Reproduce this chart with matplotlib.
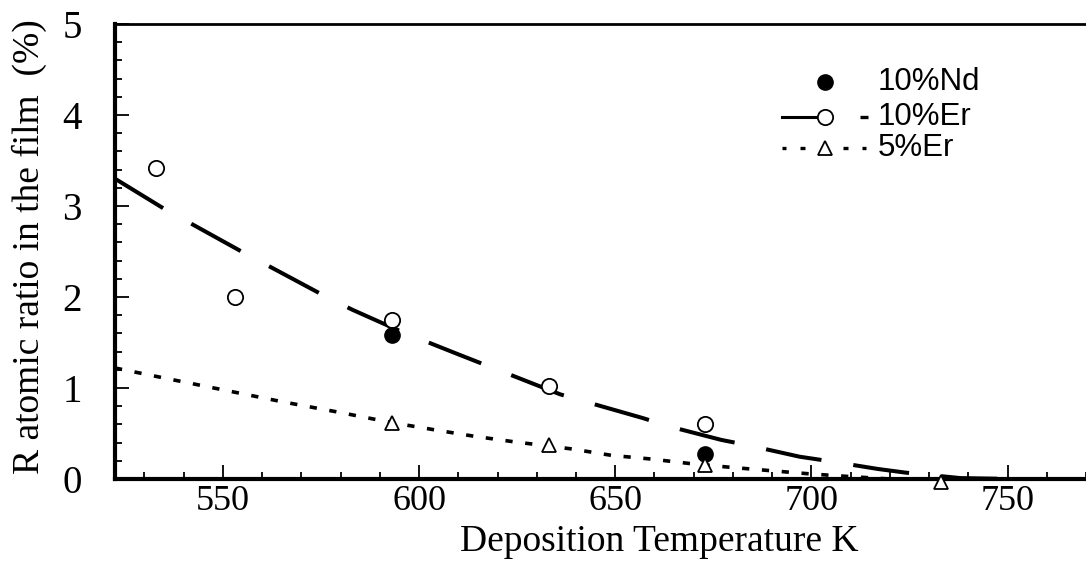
import matplotlib.pyplot as plt
from matplotlib.ticker import MultipleLocator

# measured points
er10_t = [533, 553, 593, 633, 673]
er10_r = [3.42, 2.00, 1.75, 1.02, 0.60]
nd10_t = [593, 673]
nd10_r = [1.58, 0.28]
er5_t = [593, 633, 673, 733]
er5_r = [0.61, 0.37, 0.15, -0.03]

# fitted curves
fit10_t = [522.5, 535, 543, 556, 563, 576, 583, 596, 610, 623, 636, 644, 657,
           664, 677, 684, 697, 704, 717, 724, 738, 752]
fit10_r = [3.30, 2.97, 2.78, 2.47, 2.31, 2.01, 1.86, 1.61, 1.37, 1.15, 0.93, 0.83,
           0.67, 0.575, 0.43, 0.37, 0.245, 0.20, 0.11, 0.07, 0.01, 0.0]
fit5_t = [522.5, 535, 550, 565, 580, 593, 604, 614, 624, 639, 649, 659, 669,
          679, 690, 700, 710, 720, 745]
fit5_r = [1.22, 1.11, 0.98, 0.85, 0.73, 0.62, 0.54, 0.47, 0.41, 0.33, 0.26, 0.22,
          0.17, 0.13, 0.09, 0.055, 0.026, 0.0, 0.0]

serif = "Liberation Serif"
sans = "Liberation Sans"

fig = plt.figure(figsize=(10.86, 5.66), dpi=100)
ax = fig.add_axes([115 / 1086, 87 / 566, 971 / 1086, 455 / 566])

ax.plot(fit10_t, fit10_r, color="k", lw=2.9, dashes=(14, 8), solid_capstyle="butt",
        dash_capstyle="butt")
ax.plot(fit5_t, fit5_r, color="k", lw=2.6, dashes=(2.0, 3.5), dash_capstyle="butt")

ax.plot(er10_t, er10_r, "o", ms=11, mfc="white", mec="k", mew=1.3, clip_on=False, zorder=5)
ax.plot(nd10_t, nd10_r, "o", ms=11, mfc="k", mec="k", clip_on=False, zorder=6)
ax.plot(er5_t, er5_r, "^", ms=10, mfc="white", mec="k", mew=1.3, clip_on=False, zorder=6)

ax.set_xlim(522.5, 770)
ax.set_ylim(0, 5)
ax.xaxis.set_major_locator(MultipleLocator(50))
ax.xaxis.set_minor_locator(MultipleLocator(10))
ax.yaxis.set_major_locator(MultipleLocator(1))
ax.yaxis.set_minor_locator(MultipleLocator(0.2))

ax.spines["right"].set_visible(False)
ax.spines["left"].set_linewidth(3)
ax.spines["bottom"].set_linewidth(3)
ax.spines["top"].set_linewidth(2)

ax.tick_params(which="both", direction="in", top=False, right=False, width=1.3)
ax.tick_params(which="major", length=10)
ax.tick_params(which="minor", length=5)
ax.tick_params(axis="y", which="major", pad=24, labelsize=28)
ax.tick_params(axis="x", which="major", pad=4, labelsize=26)
for lab in ax.get_xticklabels() + ax.get_yticklabels():
    lab.set_fontfamily(serif)

ax.set_xlabel("Deposition Temperature K", fontsize=27, family=serif)
ax.set_ylabel("R atomic ratio in the film  (%)", fontsize=27, family=serif)
ax.xaxis.set_label_coords(0.561, -0.1)
ax.yaxis.set_label_coords(-0.07, 0.51)

# legend, drawn by hand to copy the original layout
tr = ax.transAxes
mx, tx = 0.7312, 0.7858
rows = [0.8725, 0.7956, 0.7275]
ax.plot([mx], [rows[0]], "o", ms=11, mfc="k", mec="k", transform=tr, clip_on=False)
ax.plot([0.687, 0.724], [rows[1], rows[1]], "-", color="k", lw=2.2, transform=tr,
        clip_on=False)
ax.plot([mx], [rows[1]], "o", ms=11, mfc="white", mec="k", mew=1.3, transform=tr,
        clip_on=False)
ax.plot([0.767, 0.7755], [rows[1], rows[1]], "-", color="k", lw=2.4, transform=tr,
        solid_capstyle="butt", clip_on=False)
for x0, x1 in [(0.687, 0.691), (0.7055, 0.7106), (0.7497, 0.7549), (0.7693, 0.7734)]:
    ax.plot([x0, x1], [rows[2], rows[2]], "-", color="k", lw=2.4, transform=tr,
            solid_capstyle="butt", clip_on=False)
ax.plot([mx], [rows[2]], "^", ms=10, mfc="white", mec="k", mew=1.3, transform=tr,
        clip_on=False)
for y, label in zip(rows, ["10%Nd", "10%Er", "5%Er"]):
    ax.text(tx, y, label, transform=tr, fontsize=22.5, family=sans, va="center")

fig.savefig("out.png", dpi=100)
